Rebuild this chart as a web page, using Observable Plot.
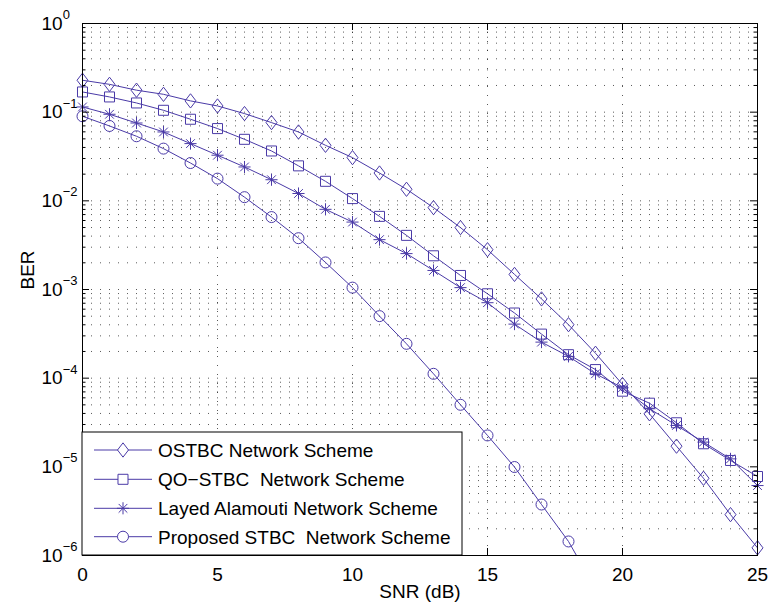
<!DOCTYPE html>
<html><head><meta charset="utf-8">
<script src="https://cdn.jsdelivr.net/npm/d3@7"></script>
<script src="https://cdn.jsdelivr.net/npm/@observablehq/plot@0.6"></script>
<style>
body{margin:0;background:#fff;}
#chart{width:770px;height:609px;}
text{white-space:pre;}
</style></head><body><div id="chart"></div>
<script>
// ---- data ----
const snr = [0,1,2,3,4,5,6,7,8,9,10,11,12,13,14,15,16,17,18,19,20,21,22,23,24,25];
const seriesNames = ["OSTBC Network Scheme", "QO\u2212STBC  Network Scheme", "Layed Alamouti Network Scheme", "Proposed STBC  Network Scheme"];
const ostbc = [0.229,0.206,0.177,0.159,0.134,0.1175,0.0964,0.0763,0.0598,0.0423,0.0307,0.0206,0.0135,0.00838,0.00499,0.00281,0.00148,0.000783,0.000401,0.000191,8.49e-5,3.96e-5,1.71e-5,7.43e-6,2.89e-6,1.22e-6];
const qostbc = [0.169,0.1485,0.127,0.105,0.0832,0.0653,0.0494,0.0365,0.0248,0.0166,0.0106,0.00668,0.00408,0.0024,0.00144,0.000895,0.000543,0.000314,0.000184,0.000125,7.13e-5,5.22e-5,3.14e-5,1.82e-5,1.18e-5,7.78e-6];
const layered = [0.1145,0.0947,0.0755,0.0598,0.0442,0.0327,0.0241,0.0173,0.0121,0.00802,0.00576,0.00365,0.00254,0.00164,0.00105,0.00071,0.000407,0.000255,0.000176,0.000112,7.8e-5,4.52e-5,2.93e-5,1.9e-5,1.23e-5,6.15e-6];
const proposed = [0.0899,0.0699,0.0535,0.0388,0.0267,0.0178,0.011,0.00656,0.00379,0.00202,0.00105,0.000501,0.000244,0.000112,5.01e-5,2.26e-5,9.95e-6,3.76e-6,1.44e-6,4.2e-7];
const xTicks = [0,5,10,15,20,25];
const yTicks = [1e-6,1e-5,1e-4,1e-3,1e-2,1e-1,1];
const yTickExp = ["\u22126","\u22125","\u22124","\u22123","\u22122","\u22121","0"];
const minorMult = [2,3,4,5,6,7,8,9];

// ---- styles ----
const color = "#4a3aa7";
const symDiamond = {draw(c, s){const r=Math.sqrt(s/Math.PI), w=r, h=r*1.3; c.moveTo(0,-h); c.lineTo(w,0); c.lineTo(0,h); c.lineTo(-w,0); c.closePath();}};
const symSquare = {draw(c, s){const r=Math.sqrt(s/Math.PI)*0.91; c.rect(-r,-r,2*r,2*r);}};
const symStar = {draw(c, s){const r=Math.sqrt(s/Math.PI)*1.1, d=r*0.72; c.moveTo(0,-r); c.lineTo(0,r); c.moveTo(-r,0); c.lineTo(r,0); c.moveTo(-d,-d); c.lineTo(d,d); c.moveTo(-d,d); c.lineTo(d,-d);}};
const symCircle = {draw(c, s){const r=Math.sqrt(s/Math.PI); c.moveTo(r,0); c.arc(0,0,r,0,2*Math.PI);}};
const symbols = [symDiamond, symSquare, symStar, symCircle];
const values = [ostbc, qostbc, layered, proposed];

const series = values.map((vals, k) => vals.map((v, i) => ({snr: snr[i], ber: v, name: seriesNames[k]})));

const yMinor = yTicks.slice(0, -1).flatMap(d => minorMult.map(m => d * m));
const yGrid = yTicks.slice(1, -1).concat(yMinor);
const xGrid = xTicks.slice(1, -1);

const W = 770, H = 609, mL = 82, mR = 13, mT = 23, mB = 54;
const fw = W - mL - mR, fh = H - mT - mB;
const font = "'Liberation Sans', Arial, Helvetica, sans-serif";
const fs = 19;

const marks = [
  Plot.ruleY(yGrid, {y: d => d, stroke: "#000", strokeOpacity: 0.65, strokeDasharray: "1,8"}),
  Plot.ruleX(xGrid, {x: d => d, stroke: "#000", strokeOpacity: 0.65, strokeDasharray: "1,8"}),
];
series.forEach((data, k) => {
  marks.push(Plot.line(data, {x: "snr", y: "ber", stroke: color, strokeWidth: 1, clip: true}));
});
series.forEach((data, k) => {
  marks.push(Plot.dot(data.filter(d => d.ber >= 1e-6), {x: "snr", y: "ber", symbol: symbols[k], r: 5.5, stroke: color, fill: "none", strokeWidth: 1}));
});
marks.push(
  Plot.frame({stroke: "#000", strokeWidth: 1}),
  Plot.tickX(xGrid, {x: d => d, insetTop: fh - 7, stroke: "#000"}),
  Plot.tickX(xGrid, {x: d => d, insetBottom: fh - 7, stroke: "#000"}),
  Plot.tickY(yTicks, {y: d => d, insetRight: fw - 7, stroke: "#000"}),
  Plot.tickY(yTicks, {y: d => d, insetLeft: fw - 7, stroke: "#000"}),
  Plot.tickY(yMinor, {y: d => d, insetRight: fw - 3.5, stroke: "#000"}),
  Plot.tickY(yMinor, {y: d => d, insetLeft: fw - 3.5, stroke: "#000"}),
  Plot.axisX(xTicks, {tickSize: 0, tickPadding: 12, tickFormat: d => String(d), fontSize: fs, label: null}),
  Plot.axisY(yTicks, {tickSize: 0, tickPadding: 0, textAnchor: "start", dx: -41, fontSize: fs, label: null,
    tickFormat: d => "10^" + yTickExp[yTicks.indexOf(d)]}),
  Plot.text(["SNR (dB)"], {frameAnchor: "bottom", dy: 42, fontSize: fs, fill: "#000"}),
  Plot.text(["BER"], {frameAnchor: "left", dx: -55, rotate: -90, fontSize: fs, fill: "#000"})
);

const plot = Plot.plot({
  width: W, height: H,
  marginLeft: mL, marginRight: mR, marginTop: mT, marginBottom: mB,
  x: {domain: [0, 25], label: null},
  y: {type: "log", domain: [1e-6, 1], label: null},
  style: {fontFamily: font, fontSize: fs + "px", background: "#fff", color: "#000", overflow: "visible"},
  marks
});
document.getElementById("chart").appendChild(plot);

// superscript exponents
const ns = "http://www.w3.org/2000/svg";
plot.querySelectorAll('g[aria-label="y-axis tick label"] text').forEach(t => {
  const m = t.textContent.match(/^10\^(.*)$/);
  if (m) {
    t.textContent = "10";
    const ts = document.createElementNS(ns, "tspan");
    ts.setAttribute("dy", "-10.5");
    ts.setAttribute("font-size", "13");
    ts.textContent = m[1];
    t.appendChild(ts);
  }
});

// legend (inside plot, lower-left)
const svg = d3.select(plot);
const lg = svg.append("g").attr("font-family", font).attr("font-size", fs).attr("text-anchor", "start");
const lx = mL, ly = 432, lw = 380, lh = H - mB - 432;
lg.append("rect").attr("x", lx).attr("y", ly).attr("width", lw).attr("height", lh)
  .attr("fill", "#fff").attr("stroke", "#000").attr("stroke-width", 1);
const rowY = [450, 479.3, 508.3, 536.7];
seriesNames.forEach((name, k) => {
  const y = rowY[k];
  lg.append("line").attr("x1", lx + 12).attr("x2", lx + 70).attr("y1", y).attr("y2", y)
    .attr("stroke", color).attr("stroke-width", 1);
  lg.append("path").attr("transform", `translate(${lx + 41},${y})`)
    .attr("d", d3.symbol(symbols[k], Math.PI * 5.5 * 5.5)())
    .attr("fill", "#fff").attr("stroke", color).attr("stroke-width", 1);
  lg.append("text").attr("x", lx + 76).attr("y", y + 6.8).attr("fill", "#000")
    .attr("text-anchor", "start").style("white-space", "pre").text(name);
});
</script>
</body></html>
